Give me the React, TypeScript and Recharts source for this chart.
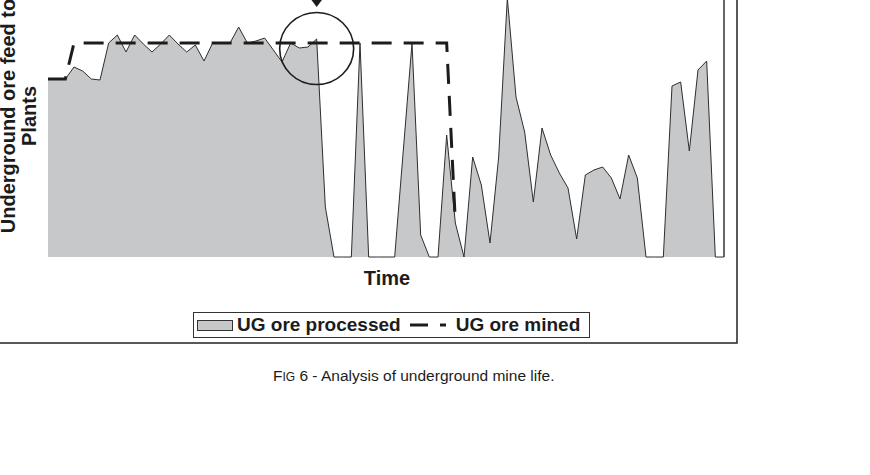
import React from 'react';
import {
  ComposedChart,
  Area,
  Line,
  XAxis,
  YAxis,
  ReferenceLine,
  ReferenceDot,
  Legend,
} from 'recharts';

const FONT = "'Liberation Sans', Arial, Helvetica, sans-serif";
const INK = '#1c1c1c';
const GREY = '#c7c8ca';

// time periods (no tick labels shown on the original)
const periods = [
  1, 2, 3, 4, 5, 6, 7, 8, 9, 10, 11, 12, 13, 14, 15, 16, 17, 18, 19, 20,
  21, 22, 23, 24, 25, 26, 27, 28, 29, 30, 31, 32, 33, 34, 35, 36, 37, 38, 39, 40,
  41, 42, 43, 44, 45, 46, 47, 48, 49, 50, 51, 52, 53, 54, 55, 56, 57, 58, 59, 60,
  61, 62, 63, 64, 65, 66, 67, 68, 69, 70, 71, 72, 73, 74, 75, 76, 77, 78, 79,
];

// UG ore processed (arbitrary units)
const processed = [
  178, 178, 178, 190, 186, 178, 177, 214, 222, 205,
  222, 213, 205, 213, 222, 213, 205, 212, 196, 214,
  214, 214, 230, 214, 216, 219, 207, 195, 214, 209,
  210, 218, 50, 0, 0, 0, 214, 0, 0, 0,
  0, 107, 214, 22, 0, 0, 122, 34, 0, 100,
  72, 14, 100, 259, 160, 125, 55, 129, 102, 84,
  69, 18, 82, 87, 90, 79, 58, 102, 79, 0,
  0, 0, 171, 175, 106, 187, 196, 0, 0,
];

// UG ore mined
const mined = [
  178, 178, 178, 214, 214, 214, 214, 214, 214, 214,
  214, 214, 214, 214, 214, 214, 214, 214, 214, 214,
  214, 214, 214, 214, 214, 214, 214, 214, 214, 214,
  214, 214, 214, 214, 214, 214, 214, 214, 214, 214,
  214, 214, 214, 214, 214, 214, 214, 35, null, null,
  null, null, null, null, null, null, null, null, null, null,
  null, null, null, null, null, null, null, null, null, null,
  null, null, null, null, null, null, null, null, null,
];

const data = periods.map((p, i) => ({ period: p, processed: processed[i], mined: mined[i] }));

const Ellipse = ({ cx, cy }: any) => (
  <ellipse cx={cx} cy={cy} rx={37} ry={36} fill="none" stroke={INK} strokeWidth={1.6} />
);

const Arrow = ({ cx, cy }: any) => (
  <g>
    <line x1={cx} x2={cx} y1={cy - 10} y2={cy - 60} stroke={INK} strokeWidth={1.5} />
    <polygon points={`${cx},${cy} ${cx - 9},${cy - 12} ${cx + 9},${cy - 12}`} fill={INK} />
  </g>
);

const LegendBox = ({ payload }: any) => {
  const items = [...(payload || [])].sort((a: any) => (a.dataKey === 'processed' ? -1 : 1));
  return (
    <div
      style={{
        display: 'flex',
        alignItems: 'center',
        height: 26,
        boxSizing: 'border-box',
        border: '1px solid #333',
        background: '#fff',
        fontFamily: FONT,
        fontWeight: 700,
        fontSize: 19,
        color: INK,
        paddingLeft: 3,
        whiteSpace: 'nowrap',
      }}
    >
      {items.map((entry: any) =>
        entry.dataKey === 'processed' ? (
          <React.Fragment key="p">
            <span
              style={{
                display: 'inline-block',
                width: 36,
                height: 11,
                background: GREY,
                border: '1px solid #333',
                boxSizing: 'border-box',
              }}
            />
            <span style={{ marginLeft: 4 }}>{entry.value}</span>
          </React.Fragment>
        ) : (
          <React.Fragment key="m">
            <svg width={46} height={10} style={{ marginLeft: 9 }}>
              <line x1={0} x2={18} y1={5} y2={5} stroke={INK} strokeWidth={3} />
              <line x1={30} x2={36} y1={5} y2={5} stroke={INK} strokeWidth={3} />
            </svg>
            <span>{entry.value}</span>
          </React.Fragment>
        )
      )}
    </div>
  );
};

export default function App() {
  return (
    <div
      style={{
        position: 'absolute',
        left: 0,
        top: 0,
        width: 870,
        height: 475,
        overflow: 'hidden',
        background: '#fff',
      }}
    >
      <div style={{ position: 'absolute', left: 0, top: -60 }}>
        <ComposedChart
          width={870}
          height={340}
          data={data}
          margin={{ top: 17, right: 146, bottom: 23, left: 48 }}
        >
          <XAxis
            dataKey="period"
            scale="point"
            height={0}
            tick={false}
            tickLine={false}
            axisLine={{ stroke: '#333', strokeWidth: 2 }}
          />
          <YAxis
            domain={[0, 300]}
            width={0}
            tick={false}
            tickLine={false}
            axisLine={{ stroke: '#333', strokeWidth: 1.5 }}
          />
          <ReferenceLine x={79} stroke="#333" strokeWidth={1.5} />
          <Area
            type="linear"
            dataKey="processed"
            name="UG ore processed"
            fill={GREY}
            fillOpacity={1}
            stroke="#2e2e2e"
            strokeWidth={1}
            isAnimationActive={false}
          />
          <Line
            type="linear"
            dataKey="mined"
            name="UG ore mined"
            stroke={INK}
            strokeWidth={3}
            strokeDasharray="20 12"
            dot={false}
            isAnimationActive={false}
          />
          <ReferenceDot x={32} y={208.5} shape={Ellipse} />
          <ReferenceDot x={32} y={250} shape={Arrow} />
          <Legend
            layout="horizontal"
            align="center"
            verticalAlign="middle"
            content={LegendBox}
            wrapperStyle={{ left: 193, top: 372, width: 397, height: 26 }}
          />
        </ComposedChart>
      </div>
      <svg
        width={870}
        height={475}
        style={{ position: 'absolute', left: 0, top: 0, pointerEvents: 'none' }}
      >
        <rect x={-10} y={-10} width={747} height={353} fill="none" stroke="#222" strokeWidth={1.5} />
        <g fontFamily={FONT} fontWeight={700} fontSize={20} fill={INK}>
          <text transform="translate(15,116) rotate(-90)" textAnchor="middle">
            Underground ore feed to
          </text>
          <text transform="translate(36,116) rotate(-90)" textAnchor="middle">
            Plants
          </text>
          <text x={387} y={285} textAnchor="middle">Time</text>
        </g>
        <text x={273} y={381} fontFamily={FONT} fontSize={15.5} fill={INK}>
          F<tspan fontSize={12}>IG</tspan> 6 - Analysis of underground mine life.
        </text>
      </svg>
    </div>
  );
}
